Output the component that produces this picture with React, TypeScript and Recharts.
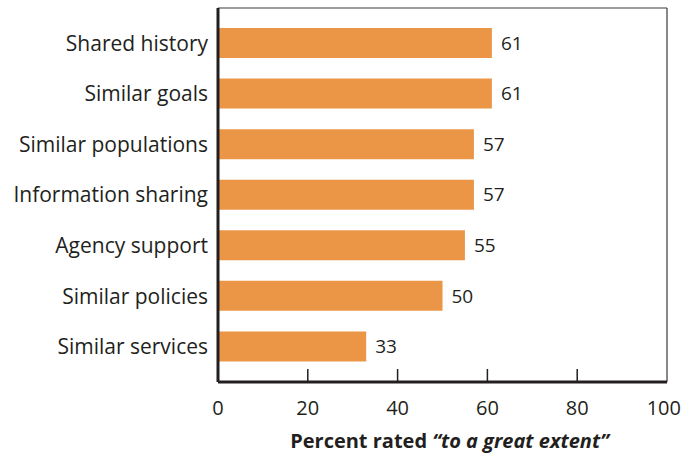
import { BarChart, Bar, XAxis, YAxis, LabelList, CartesianGrid } from "recharts";

const categories = [
  "Shared history",
  "Similar goals",
  "Similar populations",
  "Information sharing",
  "Agency support",
  "Similar policies",
  "Similar services",
];
const percents = [61, 61, 57, 57, 55, 50, 33];
const xTicks = [0, 20, 40, 60, 80, 100];

const data = categories.map((name, i) => ({ name, value: percents[i] }));

const FONT = "'Open Sans', 'Noto Sans', sans-serif";
const INK = "#231f20";

// eslint-disable-next-line @typescript-eslint/no-explicit-any
function XTick({ x, y, payload }: any) {
  const v = payload.value;
  const inner = v > 0 && v < 100;
  const last = v === 100;
  return (
    <g>
      {inner && <line x1={x} x2={x} y1={y - 13} y2={y} stroke={INK} strokeWidth={1.5} />}
      <text
        x={last ? x + 14 : x}
        y={y + 25}
        textAnchor={last ? "end" : "middle"}
        dominantBaseline="central"
        fontSize={20}
        fill={INK}
        fontFamily={FONT}
      >
        {v}
      </text>
    </g>
  );
}

// eslint-disable-next-line @typescript-eslint/no-explicit-any
function AxisTitle({ viewBox }: any) {
  const cx = viewBox.x + viewBox.width / 2 + 7;
  return (
    <text x={cx} y={viewBox.y + 58} textAnchor="middle" dominantBaseline="central" fontSize={20} fontWeight={700} fill={INK} fontFamily={FONT}>
      Percent rated <tspan fontStyle="italic">“to a great extent”</tspan>
    </text>
  );
}

export default function App() {
  return (
    <div style={{ position: "absolute", left: 0, top: 0, width: 682, height: 453, background: "#fff" }}>
      <BarChart
        width={682}
        height={453}
        data={data}
        layout="vertical"
        margin={{ top: 8, right: 15, left: 0, bottom: 0 }}
        barCategoryGap={10}
      >
        {/* thin frame along the top and right of the plot */}
        <CartesianGrid
          stroke="#3a3a3a"
          strokeWidth={1.2}
          // eslint-disable-next-line @typescript-eslint/no-explicit-any
          horizontalCoordinatesGenerator={({ offset }: any) => [offset.top]}
          // eslint-disable-next-line @typescript-eslint/no-explicit-any
          verticalCoordinatesGenerator={({ offset }: any) => [offset.left + offset.width]}
        />
        <XAxis
          type="number"
          domain={[0, 100]}
          ticks={xTicks}
          tickSize={0}
          tickMargin={0}
          tick={<XTick />}
          tickLine={false}
          axisLine={{ stroke: INK, strokeWidth: 3 }}
          height={71}
          label={<AxisTitle />}
        />
        <YAxis
          type="category"
          dataKey="name"
          width={218}
          tickLine={false}
          tickMargin={4}
          padding={{ top: 10, bottom: 10 }}
          tick={{ fontSize: 21, fill: INK, fontFamily: FONT }}
          axisLine={{ stroke: INK, strokeWidth: 3 }}
        />
        <Bar dataKey="value" fill="#eb9647" barSize={30} isAnimationActive={false}>
          <LabelList dataKey="value" position="right" offset={9} fontSize={19} fill={INK} fontFamily={FONT} />
        </Bar>
      </BarChart>
    </div>
  );
}
